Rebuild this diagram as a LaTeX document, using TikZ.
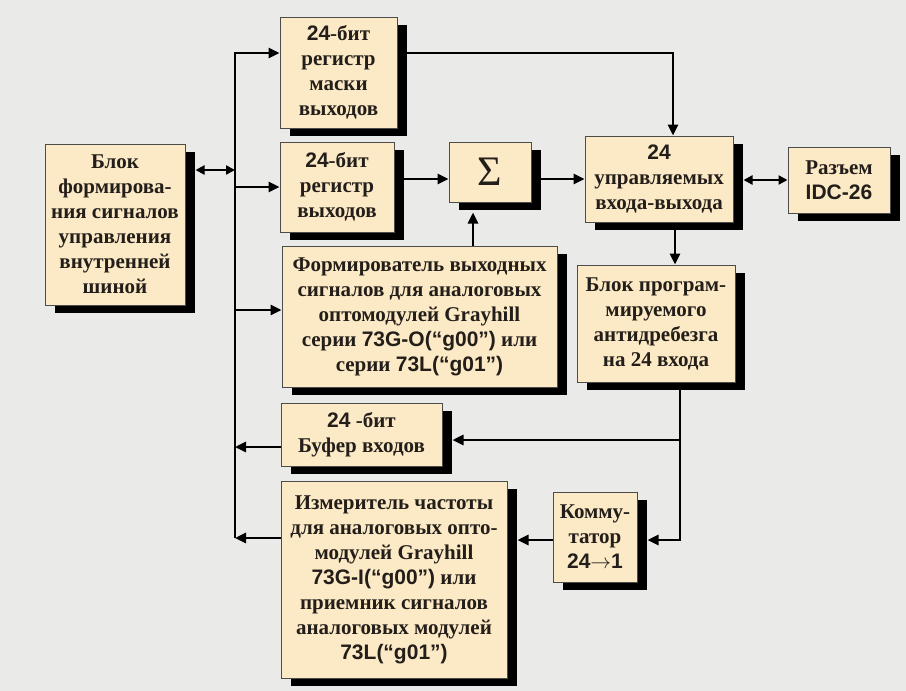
\documentclass[tikz,border=0pt]{standalone}
\usepackage{fontspec}
\setmainfont{Liberation Serif}
\newfontfamily\sansf{Liberation Sans}
\usepackage{xcolor}
\usepackage{tikz}
\usetikzlibrary{arrows.meta}
\usetikzlibrary{shadows}
\definecolor{boxfill}{RGB}{252,234,198}
\definecolor{paper}{RGB}{234,234,232}
\definecolor{ink}{RGB}{35,30,25}
\tikzset{
	block/.style={
		draw=black!70, line width=1pt, fill=boxfill,
		drop shadow={shadow xshift=10pt, shadow yshift=-8pt, fill=black, opacity=1},
		inner sep=0pt, align=center, text=ink,
		font=\fontsize{21}{25}\selectfont\bfseries,
	},
	wire/.style={line width=2.6pt},
	arr/.style={wire, -{Triangle[length=11pt,width=10pt]}},
	dbl/.style={wire, {Triangle[length=9pt,width=9pt]}-{Triangle[length=9pt,width=9pt]}},
}

\begin{document}
\begin{tikzpicture}[x=1pt, y=-1pt]
	\fill[paper] (0,0) rectangle (906,691);
	\useasboundingbox (0,0) rectangle (906,691);

	% Blocks
	\node[block, minimum width=140pt, minimum height=161pt] (ctrl) at (115,224.5)
		{Блок\\формирова-\\ния сигналов\\управления\\внутренней\\шиной};
	\node[block, minimum width=117pt, minimum height=111pt] (mask) at (338.5,72.5)
		{{\sansf 24}-бит\\регистр\\маски\\выходов};
	\node[block, minimum width=114pt, minimum height=90pt] (outreg) at (337,187)
		{{\sansf 24}-бит\\регистр\\выходов};
	\node[block, minimum width=82pt, minimum height=60pt,
		font=\fontsize{42}{42}\selectfont] (sum) at (490,172) {Σ};
	\node[block, minimum width=148pt, minimum height=86pt] (io) at (659,179)
		{{\sansf 24}\\управляемых\\входа-выхода};
	\node[block, minimum width=102pt, minimum height=66pt] (conn) at (839,180)
		{Разъем\\{\sansf IDC-26}};
	\node[block, minimum width=275pt, minimum height=141pt] (shaper) at (419.5,316.5)
		{Формирователь выходных\\сигналов для аналоговых\\оптомодулей Grayhill\\
		 серии {\sansf 73G-O(“g00”)} или\\серии {\sansf 73L(“g01”)}};
	\node[block, minimum width=158pt, minimum height=117pt] (debounce) at (656,323.5)
		{Блок програм-\\мируемого\\антидребезга\\на 24 входа};
	\node[block, minimum width=161pt, minimum height=63pt] (inbuf) at (361.5,434.5)
		{{\sansf 24} -бит\\Буфер входов};
	\node[block, minimum width=226pt, minimum height=197pt] (meter) at (394,579.5)
		{Измеритель частоты\\для аналоговых опто-\\модулей Grayhill\\
		 {\sansf 73G-I(“g00”)} или\\приемник сигналов\\аналоговых модулей\\
		 {\sansf 73L(“g01”)}};
	\node[block, minimum width=84pt, minimum height=90pt] (mux) at (595,537)
		{Комму-\\татор\\{\sansf 24$\rightarrow$1}};

	% Bus
	\coordinate (bustop) at (235,53);
	\coordinate (busbot) at (235,538);
	\coordinate (busc) at (235,170);
	\coordinate (buso) at (235,187);
	\coordinate (buss) at (235,310);
	\coordinate (busb) at (235,447);
	\coordinate (sumline) at (490,179);
	\coordinate (fb1) at (680,440);
	\coordinate (fb2) at (680,540);

	\draw[arr] (busbot) -- (bustop) -- (mask.west |- bustop);
	\draw[dbl] ([xshift=10pt]ctrl.east |- busc) -- (busc);
	\draw[arr] (buso) -- (outreg.west |- buso);
	\draw[arr] (buss) -- (shaper.west |- buss);
	\draw[arr] (inbuf.west |- busb) -- (busb);
	\draw[arr] (meter.west |- busbot) -- (busbot);

	% Output path
	\draw[arr] (mask.east |- bustop) -| ([xshift=14pt]io.north);
	\draw[arr] (outreg.east |- sumline) -- (sum.west |- sumline);
	\draw[arr] (sum.east |- sumline) -- (io.west |- sumline);
	\draw[arr] (shaper.north -| 473,0) -- ([shift={(-17pt,-10pt)}]sum.south);
	\draw[dbl] ([xshift=10pt]io.east |- conn.west) -- (conn.west);

	% Input path
	\draw[arr] ([xshift=16pt]io.south) -- ([xshift=16pt]io.south |- debounce.north);
	\draw[arr] ([xshift=24pt]debounce.south) -- (fb2) -- ([xshift=10pt]mux.east |- fb2);
	\draw[arr] (fb1) -- ([xshift=10pt]inbuf.east |- fb1);
	\draw[arr] (mux.west |- fb2) -- ([xshift=10pt]meter.east |- fb2);
\end{tikzpicture}
\end{document}
